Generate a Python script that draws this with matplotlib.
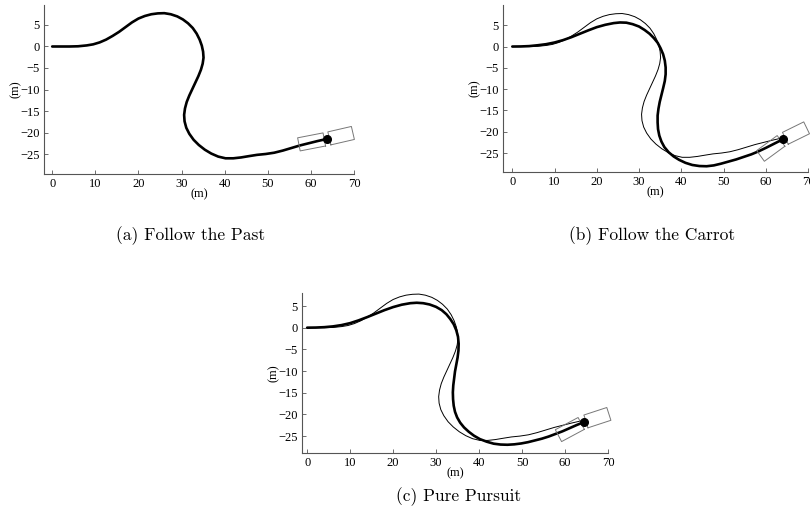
import numpy as np
import matplotlib
matplotlib.use("Agg")
import matplotlib.pyplot as plt

# reference path (thin line, thick in panel a)
ref_x = [0, 2, 4, 6, 8, 9.5, 11, 12.5, 14, 15.5, 17, 18.5, 20, 21.5, 23, 24.5, 26,
         27.5, 29, 30.3, 31.5, 32.6, 33.5, 34.2, 34.7, 35, 35.1, 34.9, 34.5, 33.9,
         33.2, 32.5, 31.8, 31.2, 30.8, 30.6, 30.7, 31.1, 31.8, 32.8, 34, 35.4, 36.9,
         38.5, 40.2, 42, 43.8, 45.6, 47.5, 49.5, 51.5, 53.5, 55.5, 57.5, 59.5, 61.5, 63.7]
ref_y = [0, 0, 0, 0.05, 0.25, 0.5, 0.95, 1.6, 2.45, 3.4, 4.5, 5.6, 6.5, 7.1, 7.5, 7.7, 7.75,
         7.5, 7.0, 6.3, 5.4, 4.3, 3.0, 1.6, 0.2, -1.2, -2.6, -4.0, -5.4, -6.9,
         -8.4, -9.9, -11.4, -12.9, -14.4, -15.9, -17.4, -18.9, -20.3, -21.7, -22.9, -24.0, -24.9,
         -25.6, -26.0, -26.0, -25.8, -25.5, -25.2, -25.0, -24.7, -24.2, -23.6, -23.0, -22.5, -22.0, -21.5]

# follow the carrot
car_x = [0, 2, 4, 6, 8, 10, 12, 14, 16, 18, 20, 22, 24, 25.5, 27, 28.5, 30, 31.3, 32.5,
         33.5, 34.4, 35.1, 35.7, 36.1, 36.3, 36.3, 36.1, 35.7, 35.3, 34.9, 34.6, 34.4,
         34.4, 34.5, 34.8, 35.3, 36.0, 37.0, 38.2, 39.5, 41, 42.6, 44.3, 46, 47.7, 49.4,
         51.2, 53, 54.8, 56.6, 58.3, 60, 61.6, 63, 64.1]
car_y = [0, 0.02, 0.1, 0.3, 0.55, 0.95, 1.5, 2.2, 3.0, 3.8, 4.55, 5.1, 5.5, 5.65, 5.6, 5.25,
         4.7, 3.9, 3.0, 2.0, 0.9, -0.4, -1.8, -3.3, -4.9, -6.5, -8.1, -9.8, -11.4, -13.0,
         -14.6, -16.2, -17.8, -19.4, -20.9, -22.3, -23.6, -24.8, -25.8, -26.6, -27.3, -27.8,
         -28.05, -28.1, -27.9, -27.5, -27.0, -26.5, -25.9, -25.3, -24.6, -23.8, -23.0, -22.3, -21.8]

# pure pursuit
pp_x = [0, 2, 4, 6, 8, 10, 12, 14, 16, 18, 20, 22, 24, 25.5, 27, 28.5, 30, 31.3, 32.4,
        33.3, 34.1, 34.7, 35.1, 35.25, 35.2, 35.0, 34.7, 34.4, 34.2, 34.0, 33.9, 33.95,
        34.1, 34.4, 34.9, 35.6, 36.5, 37.6, 38.8, 40.2, 41.8, 43.4, 45, 46.6, 48.2, 49.8,
        51.4, 53, 54.6, 56.2, 57.8, 59.4, 61, 62.6, 64.3]
pp_y = [0, 0.03, 0.12, 0.3, 0.6, 1.05, 1.7, 2.45, 3.25, 4.05, 4.75, 5.3, 5.65, 5.75, 5.65,
        5.35, 4.8, 4.05, 3.1, 2.0, 0.8, -0.6, -2.1, -3.7, -5.3, -6.9, -8.5, -10.1, -11.7,
        -13.3, -14.9, -16.5, -18.0, -19.4, -20.7, -21.9, -23.0, -24.0, -24.9, -25.7, -26.3,
        -26.75, -26.95, -27.0, -26.9, -26.7, -26.4, -26.0, -25.6, -25.1, -24.5, -23.9,
        -23.2, -22.5, -21.8]

# vehicle pose at the end: hitch point, trailer / tractor heading (deg)
hitch = [(63.7, -21.5), (64.1, -21.8), (64.3, -21.8)]
trailer_deg = [11, 36, 28]
tractor_deg = [13, 26, 18]
trailer_len, tractor_len, veh_w, gap = 6.0, 5.6, 3.1, 0.6

captions = ["(a) Follow the Past", "(b) Follow the Carrot", "(c) Pure Pursuit"]

plt.rcParams["font.family"] = "Liberation Serif"
plt.rcParams["axes.unicode_minus"] = True

fig = plt.figure(figsize=(8.1, 5.27), dpi=100)
W, H = 810, 527


def box(ax, hx, hy, deg, length, forward):
    t = np.radians(deg)
    ux, uy = np.cos(t), np.sin(t)
    vx, vy = -uy, ux
    s = 1 if forward else -1
    a = gap * s
    b = (gap + length) * s
    xs, ys = [], []
    for d, w in [(a, -veh_w / 2), (b, -veh_w / 2), (b, veh_w / 2), (a, veh_w / 2), (a, -veh_w / 2)]:
        xs.append(hx + d * ux + w * vx)
        ys.append(hy + d * uy + w * vy)
    ax.plot(xs, ys, color="#777777", lw=0.7, clip_on=False)


def panel(rect_px, xlim, ylim, paths, k):
    l, r, t, b = rect_px
    ax = fig.add_axes([l / W, 1 - b / H, (r - l) / W, (b - t) / H])
    for px, py, lw in paths:
        ax.plot(px, py, color="black", lw=lw, solid_joinstyle="round", solid_capstyle="round")
    hx, hy = hitch[k]
    box(ax, hx, hy, trailer_deg[k], trailer_len, False)
    box(ax, hx, hy, tractor_deg[k], tractor_len, True)
    ax.plot([hx], [hy], "o", color="black", ms=5.5, clip_on=False, zorder=5)
    ax.set_xlim(*xlim)
    ax.set_ylim(*ylim)
    ax.set_xticks(range(0, 71, 10))
    ax.set_yticks(range(-25, 6, 5))
    for s in ["top", "right"]:
        ax.spines[s].set_visible(False)
    for s in ["left", "bottom"]:
        ax.spines[s].set_color("#555555")
        ax.spines[s].set_linewidth(0.8)
    ax.tick_params(direction="in", length=3, width=0.6, color="#555555",
                   labelsize=9, pad=3)
    ax.set_xlabel("(m)", fontsize=9, labelpad=-1)
    ax.set_ylabel("(m)", fontsize=9, labelpad=-1)
    return ax


panel((44, 354, 5, 174), (-1.9, 70), (-29.65, 9.65), [(ref_x, ref_y, 1.9)], 0)
panel((503, 808, 5, 172), (-2.2, 70), (-29.45, 9.75),
      [(ref_x, ref_y, 0.7), (car_x, car_y, 1.9)], 1)
panel((302, 608, 293, 453), (-1.2, 70), (-28.9, 8.0),
      [(ref_x, ref_y, 0.7), (pp_x, pp_y, 1.9)], 2)

cap_pos = [(191, 236), (652, 236), (459, 497)]
for (cx, cy), c in zip(cap_pos, captions):
    fig.text(cx / W, 1 - cy / H, c, ha="center", va="center", fontsize=12.5, family="cmr10")

fig.savefig("out.png", dpi=100)
